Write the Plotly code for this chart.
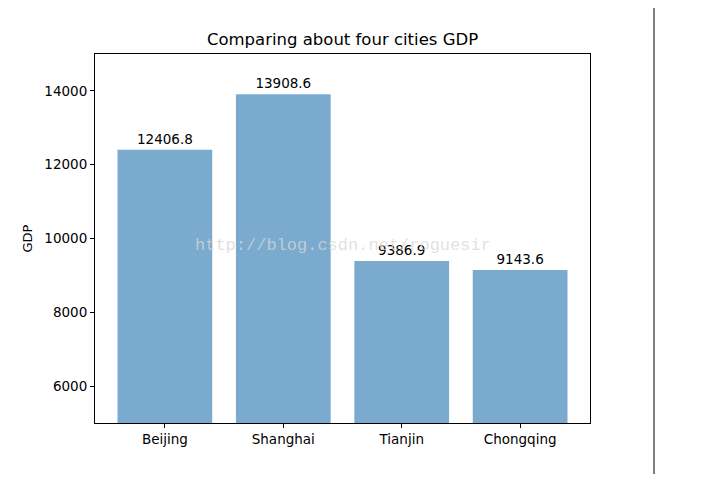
import plotly.graph_objects as go

# city GDP values
cities = ["Beijing", "Shanghai", "Tianjin", "Chongqing"]
gdp = [12406.8, 13908.6, 9386.9, 9143.6]
y_ticks = [6000, 8000, 10000, 12000, 14000]

bar_color = "#7BAACF"
font_name = "DejaVu Sans"

# the page puts the figure 8px in from the top-left corner
off = 8
left, right, top, bottom = 95 - off, 590 - off, 54 - off, 423 - off
W, H = 726, 481

fig = go.Figure()
fig.add_trace(go.Bar(
    x=cities,
    y=gdp,
    width=0.8,
    marker=dict(color=bar_color, line=dict(width=0)),
    text=[str(v) for v in gdp],
    textposition="outside",
    textfont=dict(family=font_name, size=13.5, color="black"),
    cliponaxis=False,
))

fig.update_layout(
    width=W,
    height=H,
    margin=dict(l=left, r=W - right, t=top, b=H - bottom),
    plot_bgcolor="white",
    paper_bgcolor="white",
    showlegend=False,
    font=dict(family=font_name, size=13, color="black"),
    title=dict(
        text="Comparing about four cities GDP",
        x=(left + right) / 2 / W,
        xanchor="center",
        y=1 - (39 - off) / H,
        yanchor="middle",
        font=dict(family=font_name, size=16.5, color="black"),
    ),
)

fig.update_xaxes(
    range=[-0.59, 3.59],
    showline=True, linecolor="black", linewidth=1, mirror=True,
    ticks="outside", ticklen=4, tickcolor="black",
    showgrid=False,
    tickfont=dict(family=font_name, size=13.5),
)
fig.update_yaxes(
    range=[5000, 15000],
    tickvals=y_ticks,
    ticktext=[str(t) for t in y_ticks],
    showline=True, linecolor="black", linewidth=1, mirror=True,
    ticks="outside", ticklen=4, tickcolor="black",
    showgrid=False, zeroline=False,
    tickfont=dict(family=font_name, size=13.5),
    title=dict(text="GDP", font=dict(family=font_name, size=13), standoff=8),
)

pw, ph = right - left, bottom - top

# faint watermark across the middle of the plot
fig.add_annotation(
    text="http://blog.csdn.net/roguesir",
    xref="paper", yref="paper",
    x=(343 - off - left) / pw, y=(bottom - (246 - off)) / ph,
    showarrow=False,
    font=dict(family="Liberation Mono", size=17, color="rgba(215,215,215,0.75)"),
)

# thin vertical rule at the right edge of the image
fig.add_shape(
    type="line", xref="paper", yref="paper",
    x0=(654 - off - left) / pw, x1=(654 - off - left) / pw,
    y0=(bottom - (474 - off)) / ph, y1=(bottom + off + 2) / ph,
    line=dict(color="black", width=1),
)

fig.write_html("out.html")
